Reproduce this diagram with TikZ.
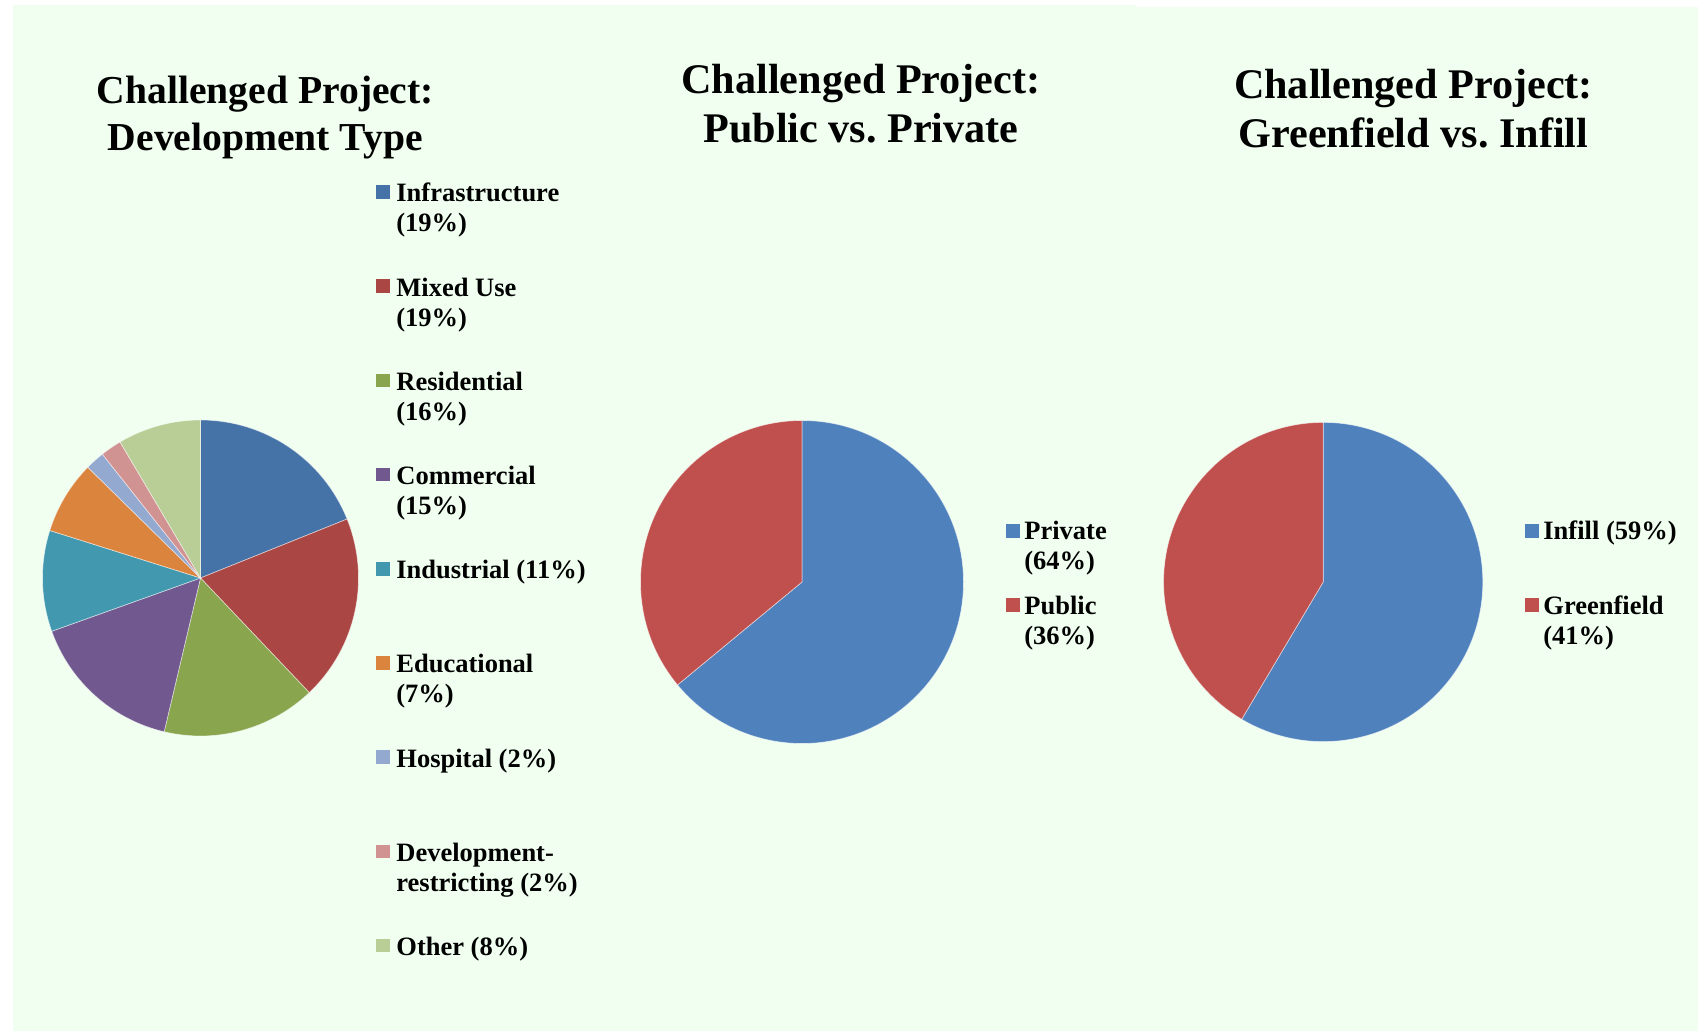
\documentclass[tikz,border=0pt]{standalone}
\usepackage{fontspec}
\setmainfont{Liberation Serif}
\frenchspacing
\definecolor{bg}{HTML}{F0FFF0}
\definecolor{cInf}{HTML}{4572A7}
\definecolor{cMix}{HTML}{AA4643}
\definecolor{cRes}{HTML}{89A54E}
\definecolor{cCom}{HTML}{71588F}
\definecolor{cInd}{HTML}{4198AF}
\definecolor{cEdu}{HTML}{DB843D}
\definecolor{cHos}{HTML}{93A9CF}
\definecolor{cDev}{HTML}{D19392}
\definecolor{cOth}{HTML}{B9CD96}
\definecolor{cBlue}{HTML}{4F81BD}
\definecolor{cRed}{HTML}{C0504D}
\newcommand{\mypieslice}[5]{%
  \filldraw[fill=#5, sliceedge] (#1) -- ++(#3:#2) arc[start angle=#3, end angle=#4, radius=#2] -- cycle;}
\newcommand{\legtwo}[2]{\begin{tabular}[t]{@{}l@{}}#1\\#2\end{tabular}}
\newcommand{\ttltwo}[2]{\begin{tabular}[t]{@{}c@{}}#1\\#2\end{tabular}}
\begin{document}
\begin{tikzpicture}[x=0.5pt,y=0.5pt,
  sliceedge/.style={draw=white, draw opacity=0.55, line width=0.35pt},
  legtext/.style={anchor=base west, inner sep=0pt, font=\fontsize{13.25}{15}\selectfont\bfseries\frenchspacing},
  legbox/.style={draw=none, inner sep=0pt, minimum size=6.75pt},
  ttlsmall/.style={anchor=base, inner sep=0pt, font=\fontsize{19.8}{23.25}\selectfont\bfseries\frenchspacing},
  ttlbig/.style={anchor=base, inner sep=0pt, font=\fontsize{21.1}{24.5}\selectfont\bfseries\frenchspacing}]
% background
\fill[white] (0,0) rectangle (1698,-1031);
\fill[bg] (13,-1031) -- (13,-5) -- (1135,-5) -- (1135,-7) -- (1698,-7) -- (1698,-1031) -- cycle;
\useasboundingbox (0,0) rectangle (1698,-1031);

% ---------- Chart 1: Development Type ----------
\node[ttlsmall] (title1) at (265.3,-103.7) {\ttltwo{Challenged Project:}{Development Type}};
\coordinate (p1) at (200.5,-578);
\mypieslice{p1}{79pt}{90}{21.9}{cInf}
\mypieslice{p1}{79pt}{21.9}{-46.5}{cMix}
\mypieslice{p1}{79pt}{-46.5}{-103.3}{cRes}
\mypieslice{p1}{79pt}{-103.3}{-160.3}{cCom}
\mypieslice{p1}{79pt}{-160.3}{-197.5}{cInd}
\mypieslice{p1}{79pt}{-197.5}{-224.5}{cEdu}
\mypieslice{p1}{79pt}{-224.5}{-231.6}{cHos}
\mypieslice{p1}{79pt}{-231.6}{-239.4}{cDev}
\mypieslice{p1}{79pt}{-239.4}{-270}{cOth}

\node[legbox, fill=cInf] (k1) at (383,-192) {};
\node[legtext] (t1) at (396,-202) {\legtwo{Infrastructure}{(19\%)}};
\node[legbox, fill=cMix] (k2) at (383,-286.2) {};
\node[legtext] (t2) at (396,-296.2) {\legtwo{Mixed Use}{(19\%)}};
\node[legbox, fill=cRes] (k3) at (383,-380.4) {};
\node[legtext] (t3) at (396,-390.4) {\legtwo{Residential}{(16\%)}};
\node[legbox, fill=cCom] (k4) at (383,-474.6) {};
\node[legtext] (t4) at (396,-484.6) {\legtwo{Commercial}{(15\%)}};
\node[legbox, fill=cInd] (k5) at (383,-568.8) {};
\node[legtext] (t5) at (396,-578.8) {Industrial (11\%)};
\node[legbox, fill=cEdu] (k6) at (383,-663) {};
\node[legtext] (t6) at (396,-673) {\legtwo{Educational}{(7\%)}};
\node[legbox, fill=cHos] (k7) at (383,-757.2) {};
\node[legtext] (t7) at (396,-767.2) {Hospital (2\%)};
\node[legbox, fill=cDev] (k8) at (383,-851.4) {};
\node[legtext] (t8) at (396,-861.4) {\legtwo{Development-}{restricting (2\%)}};
\node[legbox, fill=cOth] (k9) at (383,-945.6) {};
\node[legtext] (t9) at (396,-955.6) {Other (8\%)};

% ---------- Chart 2: Public vs. Private ----------
\node[ttlbig] (title2) at (861,-94) {\ttltwo{Challenged Project:}{Public vs. Private}};
\coordinate (p2) at (802,-582);
\mypieslice{p2}{80.75pt}{90}{-140.4}{cBlue}
\mypieslice{p2}{80.75pt}{-140.4}{-270}{cRed}
\node[legbox, fill=cBlue] (m1) at (1013,-531) {};
\node[legtext] (u1) at (1024,-540) {\legtwo{Private}{(64\%)}};
\node[legbox, fill=cRed] (m2) at (1013,-605) {};
\node[legtext] (u2) at (1024,-615) {\legtwo{Public}{(36\%)}};

% ---------- Chart 3: Greenfield vs. Infill ----------
\node[ttlbig] (title3) at (1413.5,-98.5) {\ttltwo{Challenged Project:}{Greenfield vs. Infill}};
\coordinate (p3) at (1323.2,-582);
\mypieslice{p3}{79.8pt}{90}{-120.7}{cBlue}
\mypieslice{p3}{79.8pt}{-120.7}{-270}{cRed}
\node[legbox, fill=cBlue] (n1) at (1532,-531) {};
\node[legtext] (v1) at (1543,-540) {Infill (59\%)};
\node[legbox, fill=cRed] (n2) at (1532,-605) {};
\node[legtext] (v2) at (1543,-615) {\legtwo{Greenfield}{(41\%)}};
\end{tikzpicture}
\end{document}
